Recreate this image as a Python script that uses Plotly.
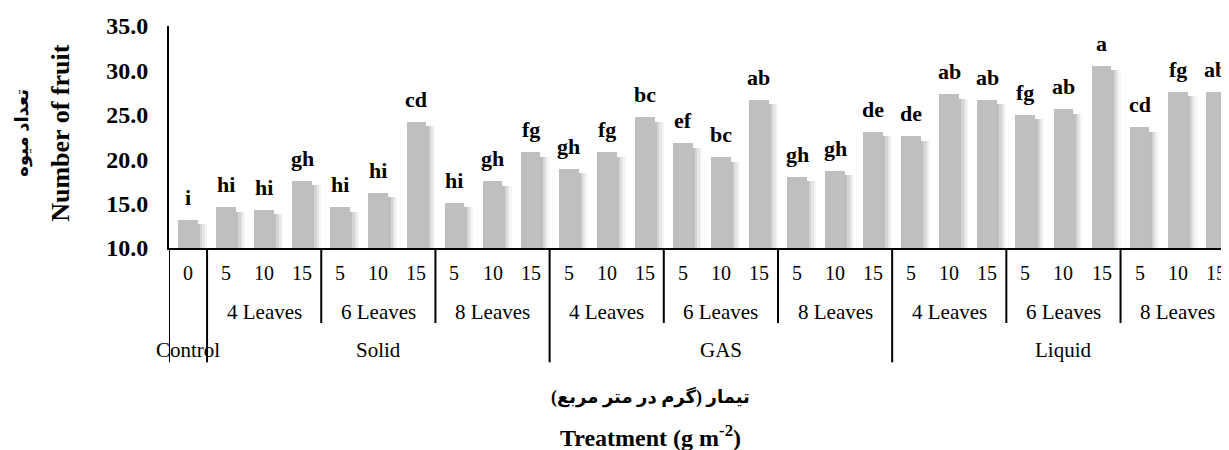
import plotly.graph_objects as go

# ---- data ----
methods = ["Control", "Solid", "GAS", "Liquid"]
leaf_groups = ["4 Leaves", "6 Leaves", "8 Leaves"]
doses = ["5", "10", "15"]
control_label = "0"

values = [13.2,
          14.6, 14.3, 17.6, 14.6, 16.2, 24.2, 15.1, 17.5, 20.8,
          18.9, 20.8, 24.7, 21.8, 20.2, 26.7, 18.0, 18.7, 23.1,
          22.6, 27.3, 26.7, 25.0, 25.6, 30.5, 23.6, 27.6, 27.6]
letters = ["i",
           "hi", "hi", "gh", "hi", "hi", "cd", "hi", "gh", "fg",
           "gh", "fg", "bc", "ef", "bc", "ab", "gh", "gh", "de",
           "de", "ab", "ab", "fg", "ab", "a", "cd", "fg", "ab"]

y_ticks = [10, 15, 20, 25, 30, 35]

# ---- build ----
n = len(values)
xs = list(range(n))
FONT = "Liberation Serif, Times New Roman, serif"
FA_FONT = "Liberation Serif, DejaVu Sans, Noto Sans, serif"

fig = go.Figure()

BW = 0.52
# soft shadow to the right of each bar
shadow_steps = [(0.06, 0.10), (0.12, 0.08), (0.18, 0.06), (0.24, 0.04)]
for off, alpha in shadow_steps:
    fig.add_trace(go.Bar(
        x=xs, y=[v - 10 - 0.5 for v in values], base=10,
        width=BW, offset=-BW / 2 + off,
        marker=dict(color=f"rgba(0,0,0,{alpha})", line=dict(width=0)),
        hoverinfo="skip", showlegend=False))

fig.add_trace(go.Bar(
    x=xs, y=[v - 10 for v in values], base=10,
    width=BW, offset=-BW / 2,
    marker=dict(color="#bfbfbf", line=dict(width=0)),
    showlegend=False))

annotations = []
for x, v, t in zip(xs, values, letters):
    annotations.append(dict(x=x, y=v, xref="x", yref="y", text=f"<b>{t}</b>",
                            showarrow=False, xanchor="center", yanchor="bottom", yshift=8,
                            font=dict(family=FONT, size=22, color="black")))

# hierarchical x labels
Y_NUM, Y_LEAF, Y_TOP = -0.113, -0.288, -0.459
SHORT, LONG = -0.338, -0.515
shapes = []


def lab(x, y, text, size):
    annotations.append(dict(x=x, y=y, xref="x", yref="paper", text=text,
                            showarrow=False, xanchor="center", yanchor="middle",
                            font=dict(family=FONT, size=size, color="black")))


def vline(x, y1):
    shapes.append(dict(type="line", xref="x", yref="paper", x0=x, x1=x,
                       y0=0, y1=y1, line=dict(color="black", width=2)))


# control
lab(0, Y_NUM, control_label, 20)
lab(0, Y_TOP, methods[0], 21)
vline(-0.5, LONG)
pos = 1
for m in methods[1:]:
    start = pos
    vline(pos - 0.5, LONG)
    for gi, g in enumerate(leaf_groups):
        gstart = pos
        if gi > 0:
            vline(pos - 0.5, SHORT)
        for d in doses:
            lab(pos, Y_NUM, d, 20)
            pos += 1
        lab((gstart + pos - 1) / 2, Y_LEAF, g, 21)
    lab((start + pos - 1) / 2, Y_TOP, m, 21)
vline(pos - 0.5, LONG)

# axis titles
annotations.append(dict(x=-0.103, y=0.518, xref="paper", yref="paper", textangle=-90,
                        text="<b>Number of fruit</b>", showarrow=False,
                        xanchor="center", yanchor="middle",
                        font=dict(family=FONT, size=26, color="black")))
annotations.append(dict(x=-0.139, y=0.518, xref="paper", yref="paper", textangle=-90,
                        text="<b>تعداد میوه</b>", showarrow=False,
                        xanchor="center", yanchor="middle",
                        font=dict(family=FA_FONT, size=18, color="black")))
annotations.append(dict(x=0.454, y=-0.672, xref="paper", yref="paper",
                        text="<b>تیمار (گرم در متر مربع)</b>", showarrow=False,
                        xanchor="center", yanchor="middle",
                        font=dict(family=FA_FONT, size=18, color="black")))
annotations.append(dict(x=0.454, y=-0.845, xref="paper", yref="paper",
                        text="<b>Treatment (g m<sup>-2</sup>)</b>", showarrow=False,
                        xanchor="center", yanchor="middle",
                        font=dict(family=FONT, size=24, color="black")))

fig.update_layout(
    width=1221, height=442,
    margin=dict(l=161, r=0, t=18, b=202),
    paper_bgcolor="white", plot_bgcolor="white",
    barmode="overlay", bargap=0,
    annotations=annotations, shapes=shapes,
    xaxis=dict(range=[-0.5, 27.35], showticklabels=False, ticks="", showgrid=False,
               zeroline=False, showline=True, linecolor="black", linewidth=2,
               layer="above traces"),
    yaxis=dict(range=[10, 35], tickvals=y_ticks,
               ticktext=[f"<b>{v:.1f}</b>" for v in y_ticks],
               tickfont=dict(family=FONT, size=24, color="black"),
               ticks="", ticklabelstandoff=14, showgrid=False, zeroline=False,
               showline=True, linecolor="black", linewidth=2),
)

fig.write_html("out.html")
